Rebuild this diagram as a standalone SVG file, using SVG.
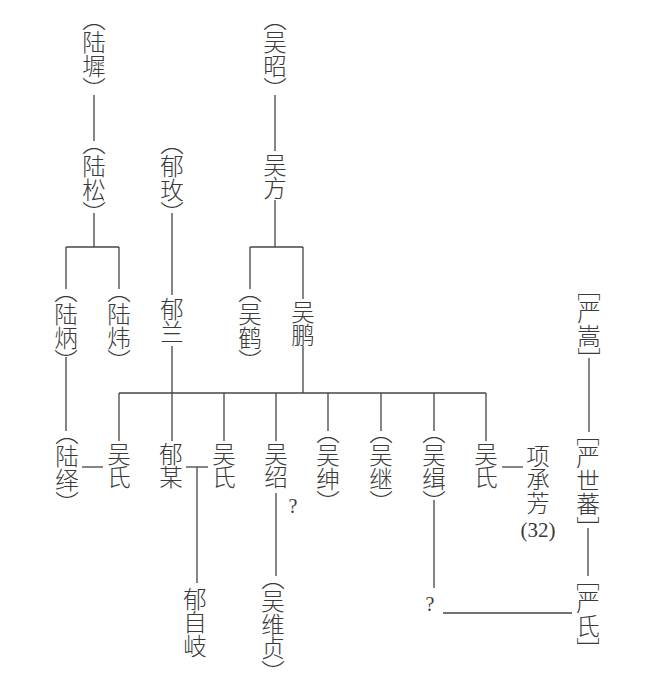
<svg xmlns="http://www.w3.org/2000/svg" width="650" height="687" viewBox="0 0 650 687">
<style>
.v { writing-mode: vertical-rl; font-family: "Noto Sans CJK SC", "Noto Sans CJK JP", sans-serif; font-size: 23.5px; font-weight: 300; font-feature-settings: "vhal" 1; fill: #3a3a3a; }
.h { font-family: "Liberation Serif", serif; font-size: 21px; fill: #3a3a3a; text-anchor: middle; }
.q { font-family: "Liberation Serif", serif; font-size: 20px; fill: #3a3a3a; text-anchor: middle; }
#connectors line { stroke: #444; stroke-width: 1.3; fill: none; }
</style>
<rect width="650" height="687" fill="#ffffff"/>
<g id="connectors">
  <line x1="94" y1="95" x2="94" y2="141"/>
  <line x1="275" y1="95" x2="275" y2="151"/>
  <line x1="94" y1="213" x2="94" y2="247"/>
  <line x1="66" y1="247" x2="119" y2="247"/>
  <line x1="66" y1="247" x2="66" y2="289"/>
  <line x1="119" y1="247" x2="119" y2="289"/>
  <line x1="275" y1="200" x2="275" y2="247"/>
  <line x1="250" y1="247" x2="303" y2="247"/>
  <line x1="250" y1="247" x2="250" y2="289"/>
  <line x1="303" y1="247" x2="303" y2="299"/>
  <line x1="172" y1="213" x2="172" y2="295"/>
  <line x1="172" y1="346" x2="172" y2="441"/>
  <line x1="303" y1="346" x2="303" y2="393"/>
  <line x1="119" y1="393" x2="486" y2="393"/>
  <line x1="119" y1="393" x2="119" y2="441"/>
  <line x1="224" y1="393" x2="224" y2="441"/>
  <line x1="276" y1="393" x2="276" y2="441"/>
  <line x1="328" y1="393" x2="328" y2="431"/>
  <line x1="381" y1="393" x2="381" y2="431"/>
  <line x1="434" y1="393" x2="434" y2="431"/>
  <line x1="486" y1="393" x2="486" y2="441"/>
  <line x1="66" y1="357" x2="66" y2="431"/>
  <line x1="82" y1="467" x2="103" y2="467"/>
  <line x1="186" y1="467" x2="208" y2="467"/>
  <line x1="197" y1="467" x2="197" y2="583"/>
  <line x1="276" y1="493" x2="276" y2="576"/>
  <line x1="434" y1="500" x2="434" y2="588"/>
  <line x1="443" y1="613" x2="572" y2="613"/>
  <line x1="502" y1="467" x2="523" y2="467"/>
  <line x1="589" y1="358" x2="589" y2="432"/>
  <line x1="588" y1="528" x2="588" y2="576"/>
</g>
<g id="lu-chi"><text class="v" x="94" y="19">（陆墀）</text></g>
<g id="wu-zhao"><text class="v" x="275" y="19">（吴昭）</text></g>
<g id="lu-song"><text class="v" x="94" y="143">（陆松）</text></g>
<g id="yu-mei"><text class="v" x="172" y="143">（郁玫）</text></g>
<g id="wu-fang"><text class="v" x="275" y="153">吴方</text></g>
<g id="lu-bing"><text class="v" x="66" y="291">（陆炳）</text></g>
<g id="lu-wei"><text class="v" x="119" y="291">（陆炜）</text></g>
<g id="yu-lan"><text class="v" x="172" y="297">郁兰</text></g>
<g id="wu-he"><text class="v" x="250" y="291">（吴鹤）</text></g>
<g id="wu-peng"><text class="v" x="303" y="300">吴鹏</text></g>
<g id="yan-song"><text class="v" x="589" y="289">［严嵩］</text></g>
<g id="lu-yi"><text class="v" x="67" y="433">（陆绎）</text></g>
<g id="wu-shi-1"><text class="v" x="119" y="442">吴氏</text></g>
<g id="yu-mou"><text class="v" x="171" y="442">郁某</text></g>
<g id="wu-shi-2"><text class="v" x="224" y="442">吴氏</text></g>
<g id="wu-shao"><text class="v" x="276" y="442">吴绍</text><text class="q" x="293" y="513">?</text></g>
<g id="wu-shen"><text class="v" x="328" y="432">（吴绅）</text></g>
<g id="wu-ji"><text class="v" x="381" y="432">（吴继）</text></g>
<g id="wu-qi"><text class="v" x="434" y="432">（吴缉）</text></g>
<g id="wu-shi-3"><text class="v" x="486" y="442">吴氏</text></g>
<g id="xiang-chengfang"><text class="v" x="538" y="444">项承芳</text><text class="h" x="538" y="537">(32)</text></g>
<g id="yan-shifan"><text class="v" x="588" y="434">［严世蕃］</text></g>
<g id="yu-ziqi"><text class="v" x="195" y="587">郁自岐</text></g>
<g id="wu-weizhen"><text class="v" x="273" y="578">（吴维贞）</text></g>
<g id="unknown"><text class="q" x="430" y="611">?</text></g>
<g id="yan-shi"><text class="v" x="588" y="579">［严氏］</text></g>
</svg>
